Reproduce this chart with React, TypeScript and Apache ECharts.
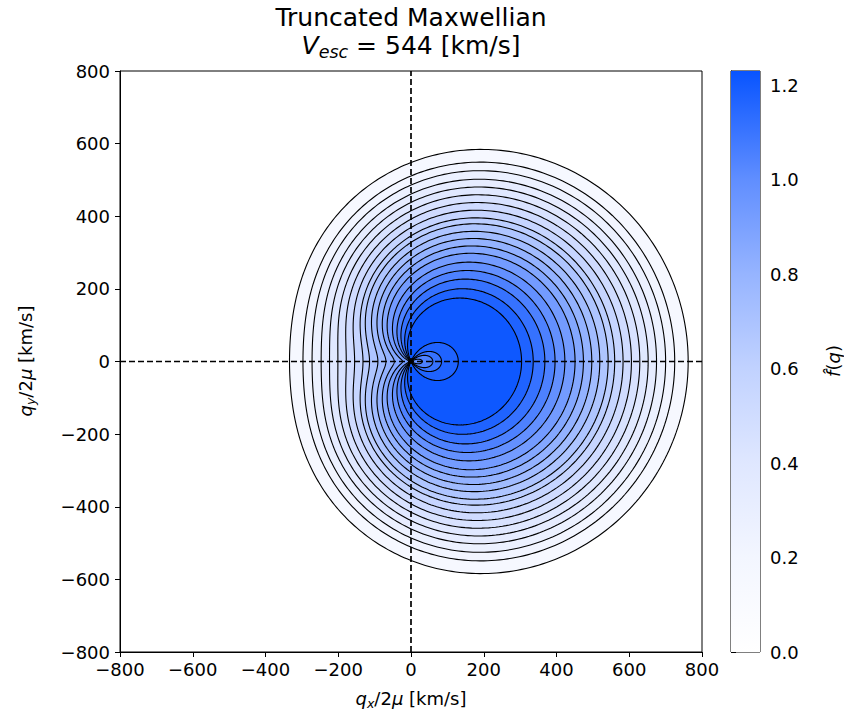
import React, { useEffect, useRef } from "react";
import * as echarts from "echarts";

// ---------- data ----------
// Contour family: each contour is r = s + A_SHIFT * cos(theta) (polar, around the origin)
const A_SHIFT = 214; // km/s
// Crossings of every contour with the positive q_x axis (km/s), outermost first
const CROSS_X = [762, 725, 700, 675, 652, 629, 606, 583, 560, 542, 519, 497, 474, 451, 423, 396, 368, 336, 304, 130, 84, 60, 31];
// Contour level of every contour (f-hat value)
const LEVELS = [0.12, 0.18, 0.24, 0.3, 0.36, 0.42, 0.48, 0.54, 0.6, 0.66, 0.72, 0.78, 0.84, 0.9, 0.96, 1.02, 1.08, 1.14, 1.2, 1.2, 1.14, 1.08, 1.02];
const PEAK_VALUE = 1.23;
const ORIGIN_VALUE = 0.95;
const OUTSIDE_VALUE = 0.0;

const AXIS_TICKS = [-800, -600, -400, -200, 0, 200, 400, 600, 800];
const CB_TICKS = [0, 0.2, 0.4, 0.6, 0.8, 1.0, 1.2];
const CB_MAX = 1.23;

// colormap (value -> rgb)
const CMAP_VALUES = [0, 0.2, 0.4, 0.6, 0.8, 1.0, 1.23];
const CMAP_COLORS = [
  [255, 255, 255],
  [243, 246, 255],
  [223, 231, 255],
  [193, 210, 255],
  [150, 180, 255],
  [96, 142, 255],
  [8, 84, 255],
];

const FONT = "DejaVu Sans";

function cmap(v: number): string {
  const n = CMAP_VALUES.length;
  if (v <= CMAP_VALUES[0]) return rgb(CMAP_COLORS[0]);
  if (v >= CMAP_VALUES[n - 1]) return rgb(CMAP_COLORS[n - 1]);
  for (let i = 0; i < n - 1; i++) {
    if (v >= CMAP_VALUES[i] && v <= CMAP_VALUES[i + 1]) {
      const t = (v - CMAP_VALUES[i]) / (CMAP_VALUES[i + 1] - CMAP_VALUES[i]);
      const c = CMAP_COLORS[i].map((a, k) => Math.round(a + (CMAP_COLORS[i + 1][k] - a) * t));
      return rgb(c);
    }
  }
  return rgb(CMAP_COLORS[n - 1]);
}
function rgb(c: number[]) {
  return `rgb(${c[0]},${c[1]},${c[2]})`;
}

function contourShape(s: number): number[][] {
  const pts: number[][] = [];
  const A = A_SHIFT;
  if (s >= A) {
    for (let d = 0; d <= 360; d += 1) {
      const t = (d * Math.PI) / 180;
      const r = s + A * Math.cos(t);
      pts.push([r * Math.cos(t), r * Math.sin(t)]);
    }
  } else {
    const t0 = Math.acos(-s / A);
    const N = 300;
    for (let j = 0; j <= N; j++) {
      const t = -t0 + (2 * t0 * j) / N;
      const r = Math.max(0, s + A * Math.cos(t));
      pts.push([r * Math.cos(t), r * Math.sin(t)]);
    }
  }
  return pts;
}

function bandFill(i: number): string {
  const s = CROSS_X[i] - A_SHIFT;
  let inner: number;
  if (i + 1 < CROSS_X.length) {
    const sNext = CROSS_X[i + 1] - A_SHIFT;
    inner = s > 0 && sNext < 0 ? PEAK_VALUE : LEVELS[i + 1];
  } else inner = ORIGIN_VALUE;
  const outer = i === 0 ? LEVELS[0] : LEVELS[i];
  return cmap((outer + inner) / 2);
}

let measureCtx: CanvasRenderingContext2D | null = null;
function textWidth(t: string, size: number, italic: boolean) {
  if (!measureCtx) measureCtx = document.createElement("canvas").getContext("2d");
  measureCtx!.font = `${italic ? "italic " : ""}${size}px "${FONT}"`;
  return measureCtx!.measureText(t).width;
}

type Seg = { t: string; it?: boolean; sub?: boolean };
function mathLabel(segs: Seg[], size: number, cx: number, cy: number, rotation = 0) {
  const subSize = size * 0.7;
  const widths = segs.map((s) => textWidth(s.t, s.sub ? subSize : size, !!s.it));
  const total = widths.reduce((a, b) => a + b, 0);
  let x = -total / 2;
  const children = segs.map((s, i) => {
    const el = {
      type: "text",
      x,
      y: s.sub ? size * 0.28 : 0,
      style: {
        text: s.t,
        fontSize: s.sub ? subSize : size,
        fontFamily: FONT,
        fontStyle: s.it ? "italic" : "normal",
        fill: "#000",
        align: "left",
        verticalAlign: "middle",
      },
    };
    x += widths[i];
    return el;
  });
  return { type: "group", x: cx, y: cy, rotation, children };
}

export default function App() {
  const ref = useRef<HTMLDivElement>(null);
  useEffect(() => {
    document.body.style.margin = "0";
    const chart = echarts.init(ref.current!, null, { renderer: "svg" });
    const contourData = CROSS_X.map((x, i) => [x, LEVELS[i]]);
    const minus = (v: number) => (v < 0 ? "\u2212" + Math.abs(v) : String(v));
    const TICK_FONT = 18;

    const option: any = {
      animation: false,
      backgroundColor: "#fff",
      grid: [
        { left: 120, top: 71, width: 582, height: 581, show: true, borderColor: "#000", borderWidth: 1, backgroundColor: "transparent" },
        { left: 731, top: 71, width: 29, height: 581, show: true, borderColor: "#000", borderWidth: 1, backgroundColor: "transparent" },
      ],
      xAxis: [
        {
          type: "value", gridIndex: 0, min: -800, max: 800, interval: 200,
          axisLine: { show: true, onZero: false, lineStyle: { color: "#000", width: 1 } },
          axisTick: { show: true, inside: false, length: 5, lineStyle: { color: "#000", width: 1 } },
          axisLabel: { show: true, margin: 8, color: "#000", fontSize: TICK_FONT, fontFamily: FONT, formatter: minus, customValues: AXIS_TICKS },
          splitLine: { show: false },
        },
        { type: "value", gridIndex: 1, min: 0, max: 1, show: false },
      ],
      yAxis: [
        {
          type: "value", gridIndex: 0, min: -800, max: 800, interval: 200,
          axisLine: { show: true, onZero: false, lineStyle: { color: "#000", width: 1 } },
          axisTick: { show: true, inside: false, length: 5, lineStyle: { color: "#000", width: 1 } },
          axisLabel: { show: true, margin: 10, color: "#000", fontSize: TICK_FONT, fontFamily: FONT, formatter: minus, customValues: AXIS_TICKS },
          splitLine: { show: false },
        },
        {
          type: "value", gridIndex: 1, min: 0, max: CB_MAX, position: "right",
          axisLine: { show: true, lineStyle: { color: "#000", width: 1 } },
          axisTick: { show: true, inside: false, length: 5, lineStyle: { color: "#000", width: 1 }, customValues: CB_TICKS },
          axisLabel: { show: true, margin: 10, color: "#000", fontSize: TICK_FONT, fontFamily: FONT, formatter: (v: number) => v.toFixed(1), customValues: CB_TICKS },
          splitLine: { show: false },
        },
      ],
      series: [
        {
          type: "custom",
          name: "fill",
          xAxisIndex: 0,
          yAxisIndex: 0,
          z: 2,
          clip: true,
          data: contourData,
          encode: { x: 0, y: 1 },
          renderItem: (params: any, api: any) => {
            const i = params.dataIndex;
            const s = api.value(0) - A_SHIFT;
            const pts = contourShape(s).map((p) => api.coord(p));
            return { type: "polygon", shape: { points: pts }, style: { fill: bandFill(i), stroke: "none" } };
          },
        },
        {
          type: "custom",
          name: "lines",
          xAxisIndex: 0,
          yAxisIndex: 0,
          z: 3,
          clip: true,
          data: contourData,
          encode: { x: 0, y: 1 },
          renderItem: (params: any, api: any) => {
            const s = api.value(0) - A_SHIFT;
            const pts = contourShape(s).map((p) => api.coord(p));
            return { type: "polyline", shape: { points: pts }, style: { fill: "none", stroke: "#000", lineWidth: 1.1 } };
          },
        },
        {
          type: "line",
          xAxisIndex: 0,
          yAxisIndex: 0,
          z: 4,
          symbol: "none",
          data: [[0, -800], [0, 800]],
          lineStyle: { color: "#000", width: 1.7, type: [6, 3] },
        },
        {
          type: "line",
          xAxisIndex: 0,
          yAxisIndex: 0,
          z: 4,
          symbol: "none",
          data: [[-800, 0], [800, 0]],
          lineStyle: { color: "#000", width: 1.7, type: [6, 3] },
        },
        {
          type: "custom",
          name: "colorbar",
          xAxisIndex: 1,
          yAxisIndex: 1,
          z: 2,
          data: [[0, 0]],
          renderItem: (params: any, api: any) => {
            const p0 = api.coord([0, CB_MAX]);
            const p1 = api.coord([1, 0]);
            const stops = CMAP_VALUES.map((v, k) => ({ offset: Math.min(1, v / CB_MAX), color: rgb(CMAP_COLORS[k]) }));
            return {
              type: "rect",
              shape: { x: p0[0], y: p0[1], width: p1[0] - p0[0], height: p1[1] - p0[1] },
              style: { fill: new echarts.graphic.LinearGradient(0, 1, 0, 0, stops), stroke: "none" },
            };
          },
        },
      ],
      graphic: [
        {
          type: "text",
          x: 411,
          y: 17,
          style: { text: "Truncated Maxwellian", fontSize: 25, fontFamily: FONT, fill: "#000", align: "center", verticalAlign: "middle" },
        },
        mathLabel([{ t: "V", it: true }, { t: "esc", it: true, sub: true }, { t: " = 544 [km/s]" }], 25, 411, 45),
        mathLabel([{ t: "q", it: true }, { t: "x", it: true, sub: true }, { t: "/2" }, { t: "\u03bc", it: true }, { t: " [km/s]" }], 18, 411, 698),
        mathLabel([{ t: "q", it: true }, { t: "y", it: true, sub: true }, { t: "/2" }, { t: "\u03bc", it: true }, { t: " [km/s]" }], 18, 25, 361, Math.PI / 2),
        mathLabel([{ t: "f\u0302", it: true }, { t: "(" }, { t: "q", it: true }, { t: ")" }], 18, 833, 361, Math.PI / 2),
      ],
    };
    chart.setOption(option);
    return () => chart.dispose();
  }, []);
  return <div ref={ref} style={{ width: 844, height: 719, position: "fixed", left: 0, top: 0 }} />;
}
